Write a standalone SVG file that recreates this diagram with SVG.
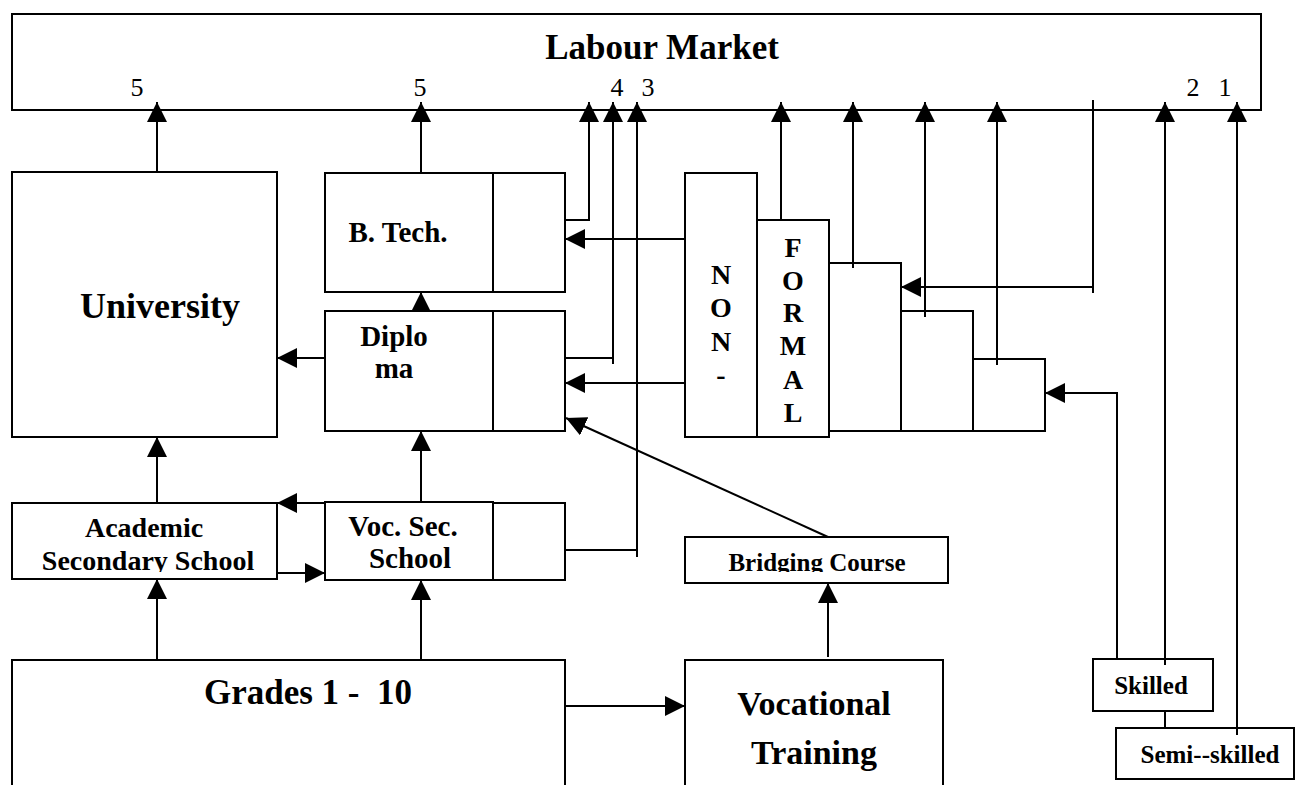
<svg xmlns="http://www.w3.org/2000/svg" width="1300" height="785" viewBox="0 0 1300 785">
  <defs>
    <style>
      .box { fill: #fff; stroke: #000; stroke-width: 2; }
      .ln { fill: none; stroke: #000; stroke-width: 2; }
      .arr { fill: none; stroke: #000; stroke-width: 2; marker-end: url(#tip); }
      .t { font-family: "Liberation Serif", "Times New Roman", serif; font-weight: bold; fill: #000; text-anchor: middle; }
      .n { font-family: "Liberation Serif", "Times New Roman", serif; font-size: 26px; fill: #000; text-anchor: middle; }
    </style>
    <marker id="tip" viewBox="0 0 20 20" refX="20" refY="10" markerWidth="20" markerHeight="20" markerUnits="userSpaceOnUse" orient="auto">
      <path d="M0,0 L20,10 L0,20 z" fill="#000"/>
    </marker>
    <clipPath id="clipAcad"><rect x="12" y="503" width="265" height="69"/></clipPath>
    <clipPath id="clipBridge"><rect x="685" y="537" width="263" height="35"/></clipPath>
  </defs>

  <g id="labour-market">
    <rect class="box" x="12" y="14" width="1249" height="96"/>
    <text class="t" x="662" y="59" font-size="35">Labour Market</text>
    <text class="n" x="137" y="96">5</text>
    <text class="n" x="420" y="96">5</text>
    <text class="n" x="617" y="96">4</text>
    <text class="n" x="648" y="96">3</text>
    <text class="n" x="1193" y="96">2</text>
    <text class="n" x="1225" y="96">1</text>
  </g>

  <g id="university">
    <rect class="box" x="12" y="172" width="265" height="265"/>
    <text class="t" x="160" y="318" font-size="36">University</text>
  </g>

  <g id="btech">
    <rect class="box" x="325" y="173" width="240" height="119"/>
    <line class="ln" x1="493" y1="173" x2="493" y2="292"/>
    <text class="t" x="398" y="242" font-size="29">B. Tech.</text>
  </g>

  <g id="diploma">
    <rect class="box" x="325" y="311" width="240" height="120"/>
    <line class="ln" x1="493" y1="311" x2="493" y2="431"/>
    <text class="t" x="394" y="346" font-size="29" text-anchor="start">Diplo</text>
    <text class="t" x="394" y="378" font-size="29" text-anchor="start">ma</text>
  </g>

  <g id="non-formal">
    <rect class="box" x="685" y="173" width="72" height="264"/>
    <rect class="box" x="757" y="220" width="72" height="217"/>
    <g class="t" font-size="28">
      <text x="721" y="284">N</text>
      <text x="721" y="317">O</text>
      <text x="721" y="351">N</text>
      <text x="721" y="384">-</text>
      <text x="793" y="257">F</text>
      <text x="793" y="290">O</text>
      <text x="793" y="322">R</text>
      <text x="793" y="355">M</text>
      <text x="793" y="389">A</text>
      <text x="793" y="422">L</text>
    </g>
  </g>

  <g id="steps">
    <path class="ln" d="M829,263 H901 V431 H829 M901,311 H973 V431 H901 M973,359 H1045 V431 H973"/>
  </g>

  <g id="academic-secondary">
    <rect class="box" x="12" y="503" width="265" height="76"/>
    <g clip-path="url(#clipAcad)">
      <text class="t" x="144" y="537" font-size="28">Academic</text>
      <text class="t" x="148" y="570" font-size="28">Secondary School</text>
    </g>
  </g>

  <g id="voc-sec-school">
    <rect class="box" x="325" y="502" width="168" height="78"/>
    <rect class="box" x="493" y="503" width="72" height="77"/>
    <text class="t" x="403" y="536" font-size="29">Voc. Sec.</text>
    <text class="t" x="410" y="568" font-size="29">School</text>
  </g>

  <g id="bridging-course">
    <rect class="box" x="685" y="537" width="263" height="46"/>
    <g clip-path="url(#clipBridge)">
      <text class="t" x="817" y="571" font-size="25">Bridging Course</text>
    </g>
  </g>

  <g id="grades">
    <path class="ln" d="M12,790 V660 H565 V790"/>
    <text class="t" x="308" y="704" font-size="35" style="white-space:pre">Grades 1 -  10</text>
  </g>

  <g id="vocational-training">
    <path class="ln" d="M685,790 V660 H943 V790"/>
    <text class="t" x="814" y="715" font-size="34">Vocational</text>
    <text class="t" x="814" y="764" font-size="34">Training</text>
  </g>

  <g id="skilled">
    <rect class="box" x="1093" y="659" width="120" height="52"/>
    <text class="t" x="1151" y="694" font-size="25">Skilled</text>
  </g>

  <g id="semi-skilled">
    <rect class="box" x="1116" y="728" width="178" height="51"/>
    <text class="t" x="1210" y="763" font-size="25">Semi--skilled</text>
  </g>

  <g id="connectors">
    <!-- exits to the labour market -->
    <line class="arr" x1="157" y1="172" x2="157" y2="102"/>
    <line class="arr" x1="421" y1="173" x2="421" y2="102"/>
    <path class="arr" d="M565,220 H589 V102"/>
    <line class="ln" x1="565" y1="358" x2="613" y2="358"/>
    <line class="arr" x1="613" y1="364" x2="613" y2="102"/>
    <line class="ln" x1="565" y1="550" x2="637" y2="550"/>
    <line class="arr" x1="637" y1="557" x2="637" y2="102"/>
    <line class="arr" x1="781" y1="220" x2="781" y2="102"/>
    <line class="arr" x1="853" y1="268" x2="853" y2="102"/>
    <line class="arr" x1="925" y1="317" x2="925" y2="102"/>
    <line class="arr" x1="997" y1="365" x2="997" y2="102"/>
    <line class="arr" x1="1165" y1="665" x2="1165" y2="102"/>
    <line class="arr" x1="1237" y1="735" x2="1237" y2="102"/>
    <line class="ln" x1="1165" y1="711" x2="1165" y2="728"/>

    <!-- labour market back into the non-formal steps -->
    <line class="ln" x1="1093" y1="100" x2="1093" y2="293"/>
    <line class="arr" x1="1093" y1="287" x2="901" y2="287"/>
    <path class="arr" d="M1117,659 V393 H1045"/>

    <!-- non-formal into formal programmes -->
    <line class="arr" x1="685" y1="239" x2="565" y2="239"/>
    <line class="arr" x1="685" y1="383" x2="565" y2="383"/>

    <!-- formal ladder -->
    <line class="arr" x1="325" y1="358" x2="277" y2="358"/>
    <line class="arr" x1="421" y1="311" x2="421" y2="292"/>
    <line class="arr" x1="421" y1="502" x2="421" y2="431"/>
    <line class="arr" x1="157" y1="503" x2="157" y2="437"/>
    <line class="arr" x1="325" y1="503" x2="277" y2="503"/>
    <line class="arr" x1="277" y1="573" x2="325" y2="573"/>
    <line class="arr" x1="157" y1="660" x2="157" y2="579"/>
    <line class="arr" x1="421" y1="660" x2="421" y2="580"/>
    <line class="arr" x1="565" y1="706" x2="685" y2="706"/>
    <line class="arr" x1="828" y1="657" x2="828" y2="583"/>
    <line class="arr" x1="828" y1="537" x2="566" y2="418"/>
  </g>
</svg>
